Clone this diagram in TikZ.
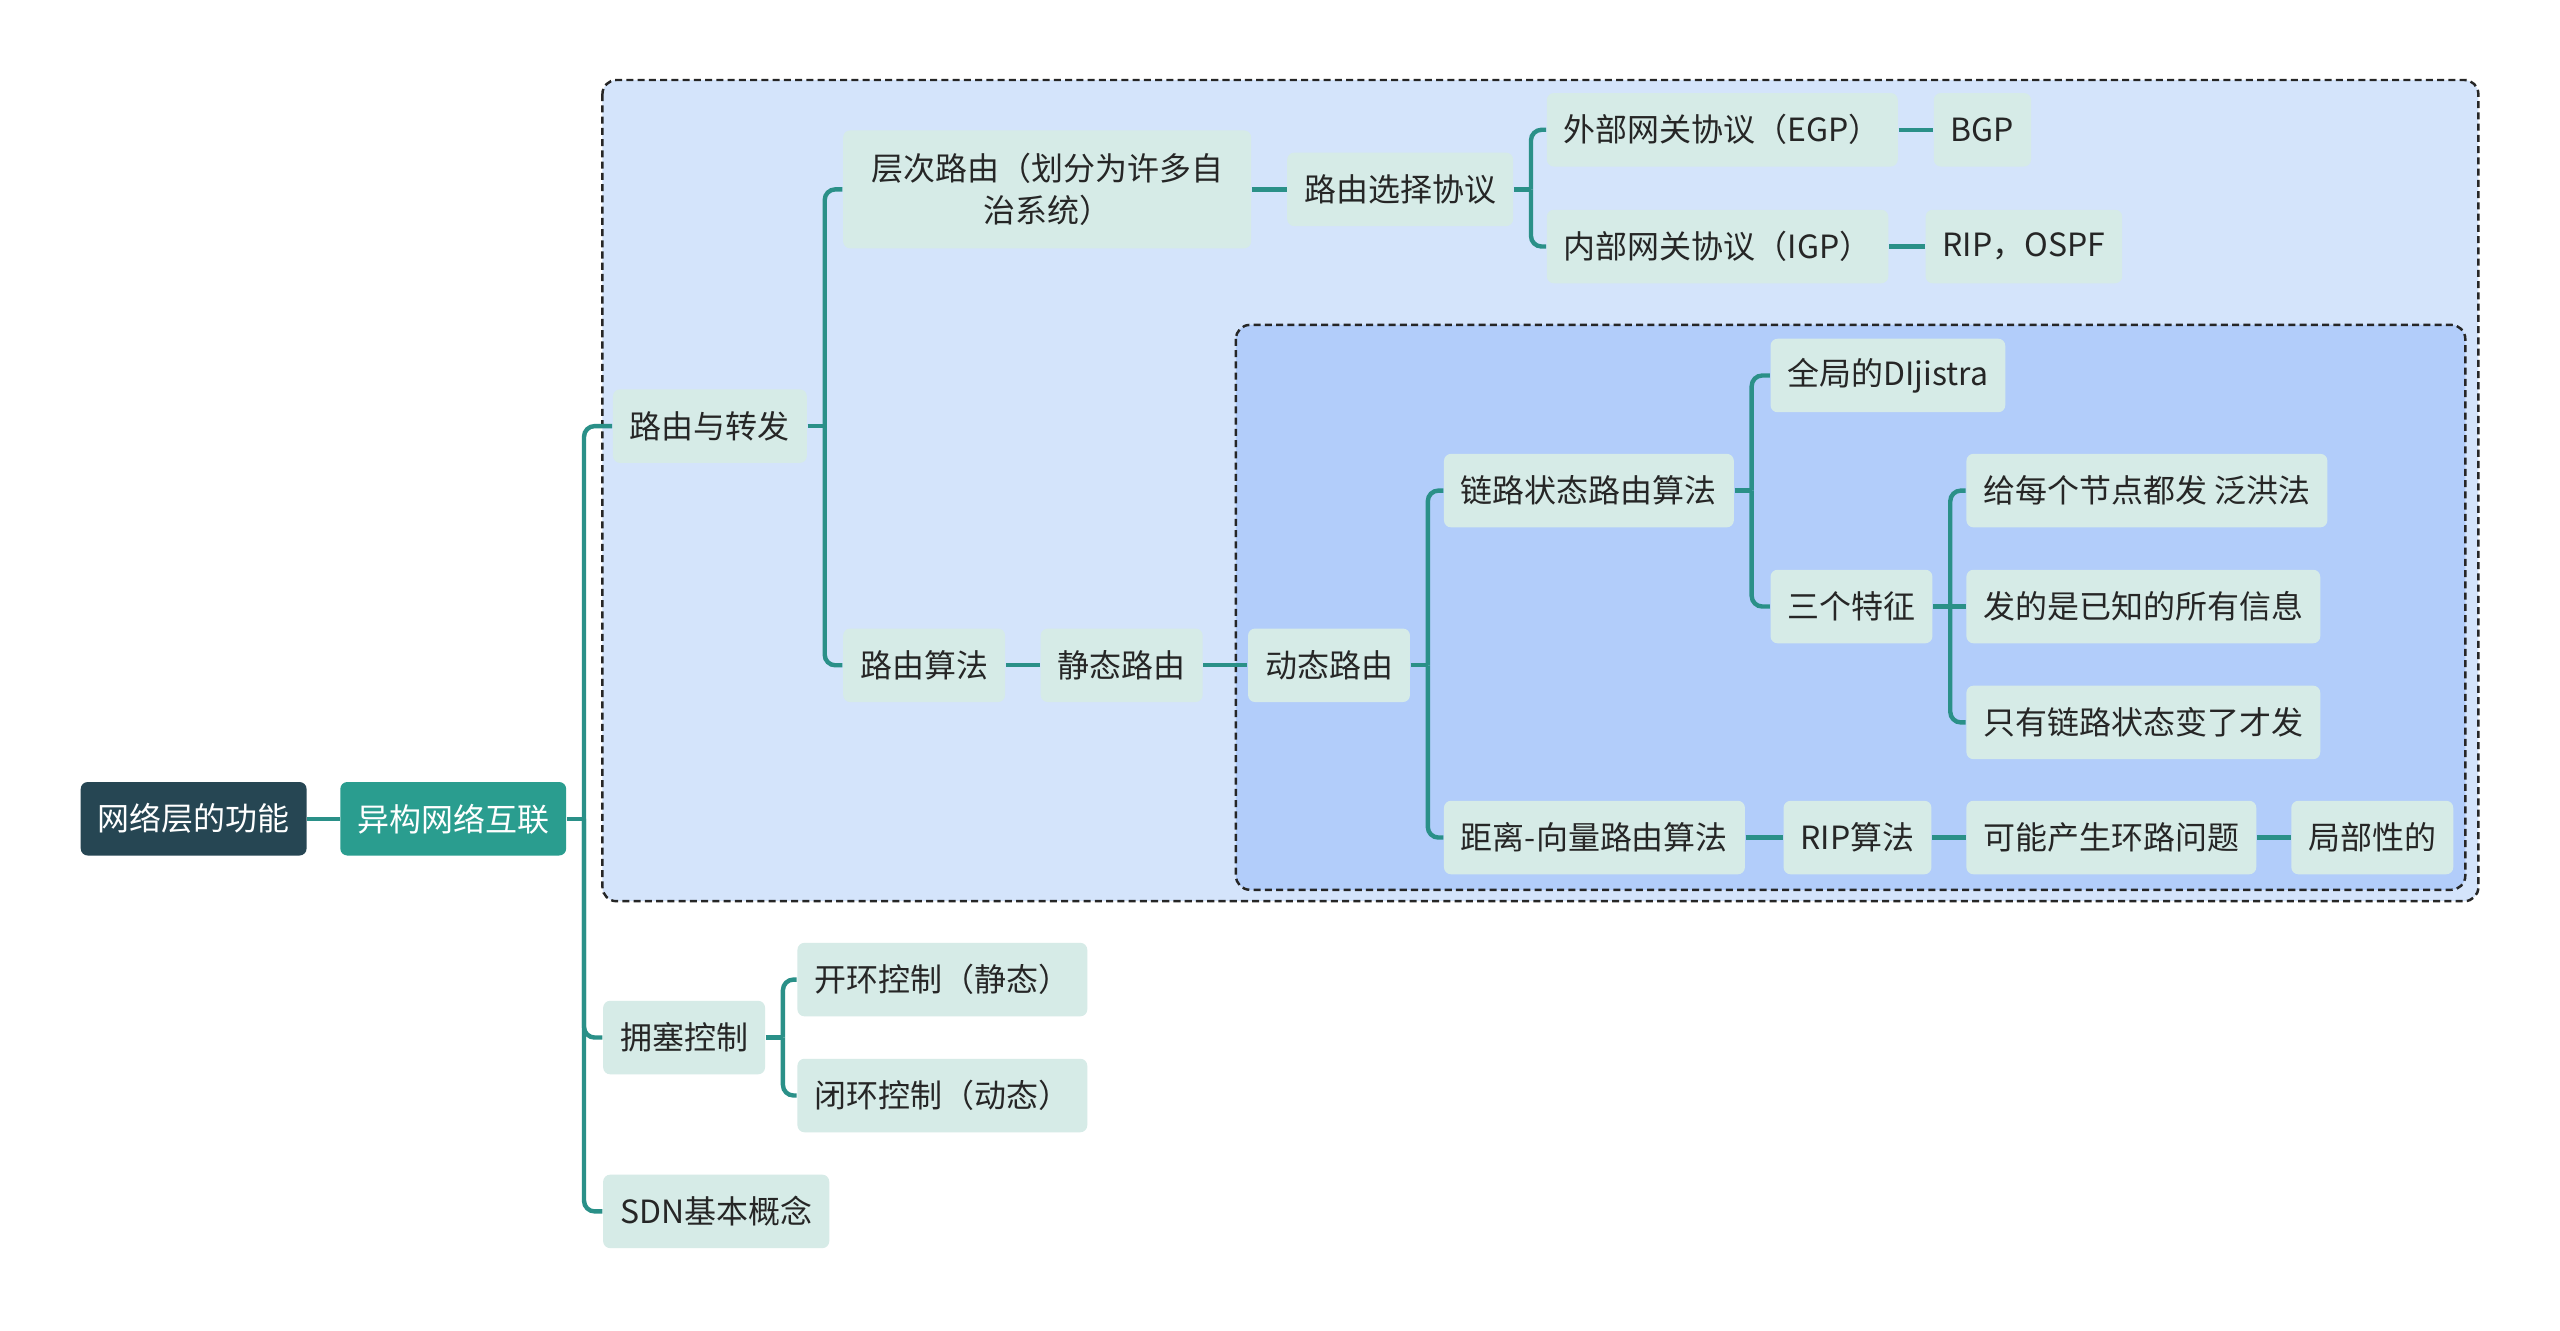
\documentclass[tikz,border=0pt]{standalone}
\usepackage{fontspec}
\setmainfont{Noto Sans CJK SC}
\usetikzlibrary{positioning, calc}
\definecolor{rootC}{HTML}{264653}
\definecolor{mainC}{HTML}{2A9D8F}
\definecolor{leafC}{HTML}{D6EBE7}
\definecolor{outerC}{HTML}{D4E4FB}
\definecolor{innerC}{HTML}{B2CDFA}
\definecolor{lineC}{HTML}{2A9088}

\begin{document}
\begin{tikzpicture}[
    x=0.016327cm, y=-0.016327cm,
    topic/.style={anchor=west, minimum height=0.735cm, inner xsep=0.17cm, inner ysep=0pt,
      rounded corners=2pt, font=\fontsize{9.1}{12}\selectfont},
    leaf/.style={topic, fill=leafC, text=black!85},
    rootbox/.style={topic, fill=rootC, text=white},
    mainbox/.style={topic, fill=mainC, text=white},
    link/.style={draw=lineC, line width=1.25pt},
    group/.style={draw=black!85, line width=0.7pt, dash pattern=on 2pt off 1.2pt, rounded corners=4pt}
  ]
    \newcommand{\stem}[1]{\draw[link] (#1.east) -- ++(10.5,0);}
    \newcommand{\fork}[2]{\draw[link, rounded corners=3pt] ($(#1.east)+(10.5,0)$) |- (#2.west);}

    \fill[white] (0,0) rectangle (1568,815);
    \useasboundingbox (0,0) rectangle (1568,815);

    % frames
    \draw[group, fill=outerC] (369,49) rectangle (1518,552);
    \draw[group, fill=innerC] (757,199) rectangle (1510,545);

    % root
    \node[rootbox] (root)   at (49,501.5)  {网络层的功能};
    \node[mainbox] (hetero) at (208,501.5) {异构网络互联};

    % level 2
    \node[leaf] (route)   at (375,261)   {路由与转发};
    \node[leaf] (congest) at (369,635.5) {拥塞控制};
    \node[leaf] (sdn)     at (369,742)   {SDN基本概念};

    % hierarchical routing
    \node[leaf, align=center, minimum height=1.18cm, minimum width=4.08cm] (hier) at (516,116) {层次路由（划分为许多自\\治系统）};
    \node[leaf] (select) at (788,116)    {路由选择协议};
    \node[leaf] (egp)    at (947,79.5)   {外部网关协议（EGP）};
    \node[leaf] (igp)    at (947,151)    {内部网关协议（IGP）};
    \node[leaf] (bgp)    at (1184,79.5)  {BGP};
    \node[leaf] (ospf)   at (1179,151)   {RIP，OSPF};

    % routing algorithms
    \node[leaf] (algo)      at (516,407.5)  {路由算法};
    \node[leaf] (static)    at (637,407.5)  {静态路由};
    \node[leaf] (dynamic)   at (764,407.5)  {动态路由};
    \node[leaf] (linkstate) at (884,300.5)  {链路状态路由算法};
    \node[leaf] (dijkstra)  at (1084,230)   {全局的DIjistra};
    \node[leaf] (three)     at (1084,371.5) {三个特征};
    \node[leaf] (flood)     at (1204,300.5) {给每个节点都发 泛洪法};
    \node[leaf] (allinfo)   at (1204,371.5) {发的是已知的所有信息};
    \node[leaf] (change)    at (1204,442.5) {只有链路状态变了才发};
    \node[leaf] (distvec)   at (884,513)    {距离-向量路由算法};
    \node[leaf] (rip)       at (1092,513)   {RIP算法};
    \node[leaf] (loop)      at (1204,513)   {可能产生环路问题};
    \node[leaf] (local)     at (1403,513)   {局部性的};

    % congestion control
    \node[leaf] (openloop)   at (488,600) {开环控制（静态）};
    \node[leaf] (closedloop) at (488,671) {闭环控制（动态）};

    % connectors
    \draw[link] (root.east) -- (hetero.west);
    \stem{hetero} \fork{hetero}{route} \fork{hetero}{congest} \fork{hetero}{sdn}
    \stem{route} \fork{route}{hier} \fork{route}{algo}
    \draw[link] (hier.east) -- (select.west);
    \stem{select} \fork{select}{egp} \fork{select}{igp}
    \draw[link] (egp.east) -- (bgp.west);
    \draw[link] (igp.east) -- (ospf.west);
    \draw[link] (algo.east) -- (static.west);
    \draw[link] (static.east) -- (dynamic.west);
    \stem{dynamic} \fork{dynamic}{linkstate} \fork{dynamic}{distvec}
    \stem{linkstate} \fork{linkstate}{dijkstra} \fork{linkstate}{three}
    \stem{three} \fork{three}{flood} \fork{three}{change}
    \draw[link] (three.east) -- (allinfo.west);
    \draw[link] (distvec.east) -- (rip.west);
    \draw[link] (rip.east) -- (loop.west);
    \draw[link] (loop.east) -- (local.west);
    \stem{congest} \fork{congest}{openloop} \fork{congest}{closedloop}
  \end{tikzpicture}
\end{document}
